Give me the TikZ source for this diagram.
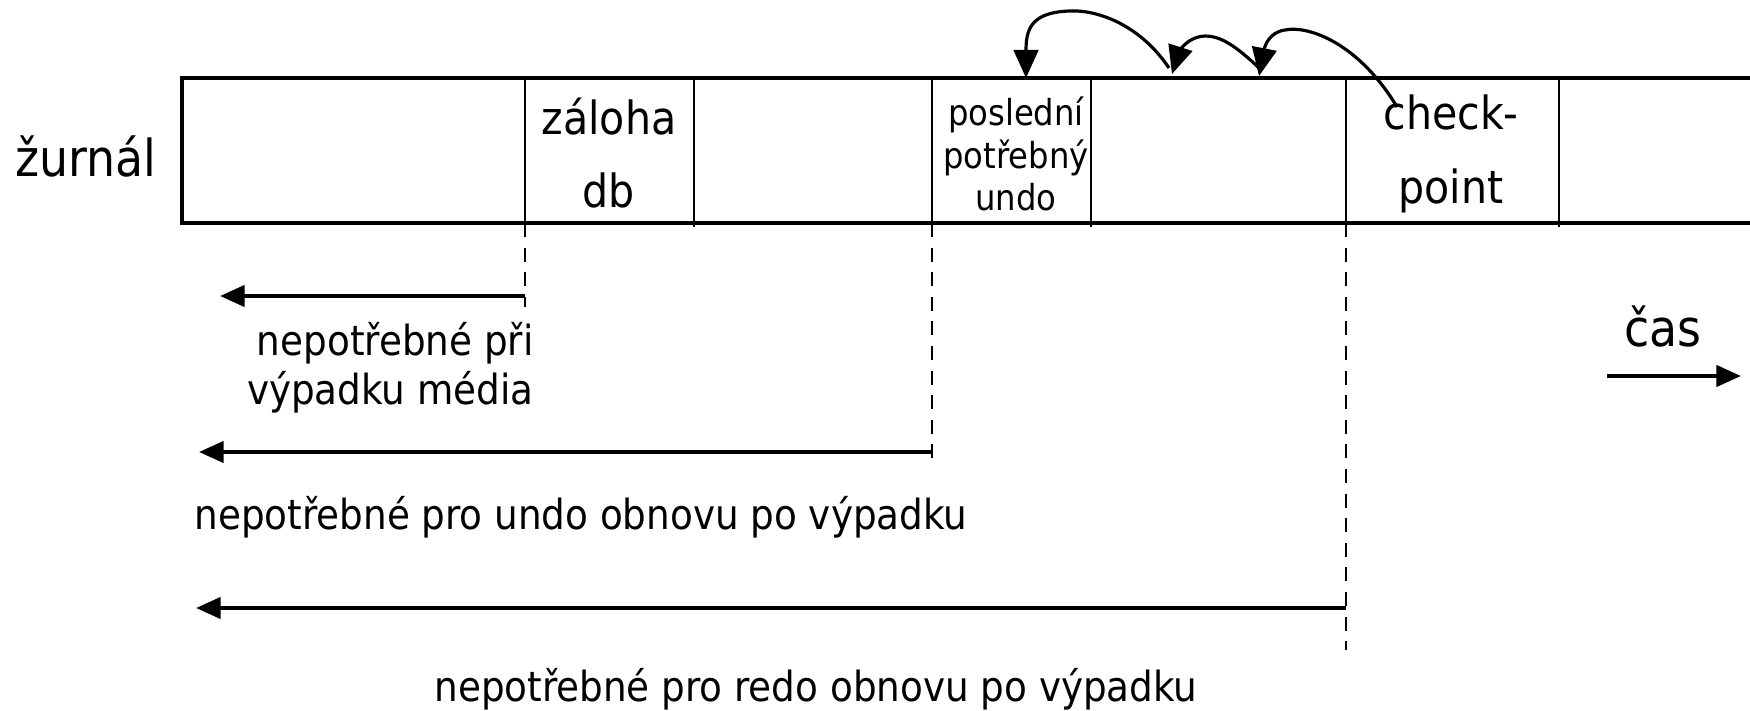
\documentclass[tikz,border=0pt]{standalone}
\usepackage{fontspec}
\setmainfont{DejaVu Sans Condensed}
\usetikzlibrary{arrows.meta}

\tikzset{
  logline/.style={line width=0.9pt},
  cell/.style={line width=0.7pt},
  guide/.style={dashed, line width=0.6pt, dash pattern=on 4pt off 3pt},
  back/.style={-{Triangle[length=7pt,width=6pt]}, line width=1.1pt},
  jump/.style={-{Triangle[length=8pt,width=7pt]}, line width=0.9pt},
  celltext/.style={font=\fontsize{13}{21}\selectfont, align=center},
  smalltext/.style={font=\fontsize{10.2}{12}\selectfont, align=center},
  note/.style={font=\fontsize{11.8}{14}\selectfont},
  bigtext/.style={font=\fontsize{14.5}{17}\selectfont}
}

\begin{document}
\begin{tikzpicture}[x=1cm,y=-1cm]
      \useasboundingbox (0,0) rectangle (17.5,7.11);
      \draw [logline] (17.5,0.78) -- (1.82,0.78) -- (1.82,2.23) -- (17.5,2.23);
      \draw [cell] (5.25,0.80) -- (5.25,2.27);
      \draw [cell] (6.94,0.80) -- (6.94,2.27);
      \draw [cell] (9.32,0.80) -- (9.32,2.27);
      \draw [cell] (10.91,0.80) -- (10.91,2.27);
      \draw [cell] (13.46,0.80) -- (13.46,2.27);
      \draw [cell] (15.59,0.80) -- (15.59,2.27);
      \node [bigtext] (zurnal) at (0.86,1.56) {žurnál};
      \node [celltext] (zaloha) at (6.09,1.53) {záloha\\db};
      \node [smalltext] (undo) at (10.16,1.54) {poslední\\potřebný\\undo};
      \node [celltext] (checkpoint) at (14.51,1.54) {check-\\point};
      \coordinate (tipA) at (10.26,0.78);
      \coordinate (tipB) at (11.72,0.74);
      \coordinate (tipC) at (12.59,0.76);
      \coordinate (startC) at (13.97,1.07);
      \draw [jump] (startC) .. controls (13.6,0.45) and (13.1,0.25) .. (12.85,0.30) .. controls (12.70,0.32) and (12.65,0.45) .. (tipC);
      \draw [jump] (tipC) ++(0,-0.08) .. controls (12.35,0.45) and (12.2,0.36) .. (12.05,0.36) .. controls (11.85,0.37) and (11.78,0.55) .. (tipB);
      \draw [jump] (tipB) ++(-0.03,-0.06) .. controls (11.4,0.25) and (11.0,0.12) .. (10.77,0.11) .. controls (10.3,0.10) and (10.26,0.30) .. (tipA);
      \coordinate (mediaTop) at (5.25,2.23);
      \coordinate (mediaEnd) at (5.25,3.07);
      \coordinate (mediaTip) at (2.20,2.96);
      \coordinate (undoTop) at (9.32,2.23);
      \coordinate (undoEnd) at (9.32,4.66);
      \coordinate (undoTip) at (1.99,4.52);
      \coordinate (redoTop) at (13.46,2.23);
      \coordinate (redoEnd) at (13.46,6.50);
      \coordinate (redoTip) at (1.96,6.08);
      \draw [guide] (mediaTop) -- (mediaEnd);
      \draw [guide] (undoTop) -- (undoEnd);
      \draw [guide] (redoTop) -- (redoEnd);
      \draw [back] (mediaTop |- mediaTip) -- (mediaTip);
      \draw [back] (undoTop |- undoTip) -- (undoTip);
      \draw [back] (redoTop |- redoTip) -- (redoTip);
      \node [note, align=right, anchor=east] (media) at (5.46,3.68) {nepotřebné při\\výpadku média};
      \node [note] (undonote) at (5.81,5.17) {nepotřebné pro undo obnovu po výpadku};
      \node [note] (redonote) at (8.16,6.89) {nepotřebné pro redo obnovu po výpadku};
      \node [bigtext] (cas) at (16.63,3.26) {čas};
      \coordinate (timeFrom) at (16.07,3.76);
      \coordinate (timeTo) at (17.41,3.76);
      \draw [back] (timeFrom) -- (timeTo);
    \end{tikzpicture}
\end{document}
